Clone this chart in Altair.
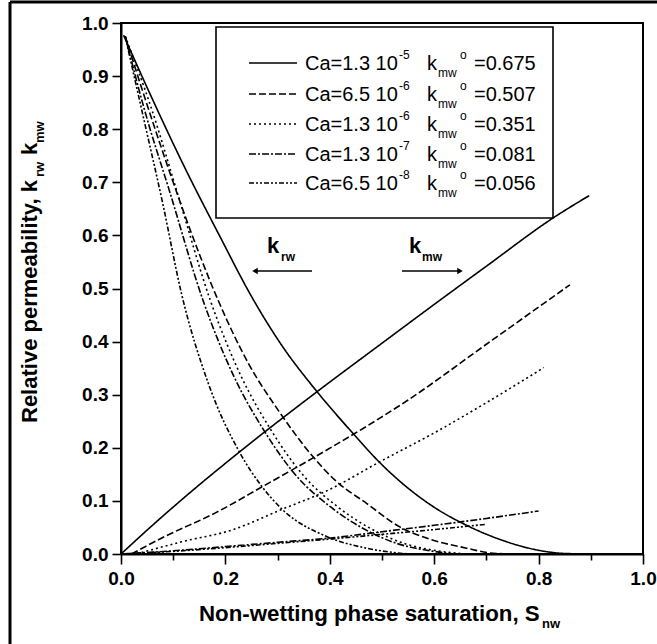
import altair as alt
import pandas as pd

# ---------------- data ----------------
series = ["1.3e-5", "6.5e-6", "1.3e-6", "1.3e-7", "6.5e-8"]
kmw0 = ["0.675", "0.507", "0.351", "0.081", "0.056"]
ca_base = ["Ca=1.3 10", "Ca=6.5 10", "Ca=1.3 10", "Ca=1.3 10", "Ca=6.5 10"]
ca_exp = ["-5", "-6", "-6", "-7", "-8"]

# k_rw curves (decreasing)
krw_x = {
    "1.3e-5": [0.005, 0.06, 0.12, 0.19, 0.25, 0.31, 0.372, 0.44, 0.5, 0.6, 0.66, 0.73, 0.79, 0.85, 0.9],
    "6.5e-6": [0.008, 0.05, 0.1, 0.15, 0.186, 0.244, 0.301, 0.368, 0.41, 0.471, 0.534, 0.598, 0.662, 0.707, 0.75],
    "1.3e-6": [0.008, 0.058, 0.108, 0.171, 0.23, 0.287, 0.351, 0.415, 0.478, 0.542, 0.606, 0.66],
    "1.3e-7": [0.008, 0.044, 0.094, 0.157, 0.216, 0.273, 0.337, 0.401, 0.464, 0.528, 0.592, 0.64],
    "6.5e-8": [0.008, 0.04, 0.08, 0.116, 0.167, 0.228, 0.27, 0.31, 0.394, 0.47, 0.55],
}
krw_y = {
    "1.3e-5": [0.977, 0.857, 0.732, 0.597, 0.485, 0.39, 0.31, 0.232, 0.168, 0.088, 0.055, 0.026, 0.009, 0.001, 0.0],
    "6.5e-6": [0.975, 0.846, 0.70, 0.565, 0.478, 0.359, 0.271, 0.183, 0.139, 0.095, 0.051, 0.026, 0.011, 0.002, 0.0],
    "1.3e-6": [0.975, 0.84, 0.68, 0.478, 0.335, 0.234, 0.146, 0.089, 0.048, 0.02, 0.006, 0.0],
    "1.3e-7": [0.975, 0.84, 0.68, 0.478, 0.335, 0.234, 0.146, 0.089, 0.048, 0.02, 0.006, 0.0],
    "6.5e-8": [0.975, 0.835, 0.66, 0.49, 0.322, 0.19, 0.127, 0.083, 0.033, 0.011, 0.0],
}
# k_mw curves (increasing)
kmw_x = {
    "1.3e-5": [0.0, 0.01, 0.05, 0.116, 0.228, 0.372, 0.5, 0.6, 0.7, 0.828, 0.897],
    "6.5e-6": [0.02, 0.084, 0.18, 0.273, 0.368, 0.41, 0.55, 0.7, 0.86],
    "1.3e-6": [0.03, 0.116, 0.212, 0.308, 0.39, 0.502, 0.6, 0.7, 0.81],
    "1.3e-7": [0.0, 0.1, 0.2, 0.3, 0.41, 0.5, 0.6, 0.7, 0.8],
    "6.5e-8": [0.0, 0.1, 0.2, 0.3, 0.41, 0.5, 0.6, 0.7],
}
kmw_y = {
    "1.3e-5": [0.0, 0.009, 0.045, 0.102, 0.193, 0.303, 0.397, 0.47, 0.542, 0.633, 0.675],
    "6.5e-6": [0.0, 0.033, 0.077, 0.128, 0.181, 0.205, 0.29, 0.395, 0.507],
    "1.3e-6": [0.0, 0.023, 0.045, 0.084, 0.117, 0.177, 0.228, 0.285, 0.351],
    "1.3e-7": [0.0, 0.006, 0.014, 0.022, 0.031, 0.042, 0.054, 0.067, 0.081],
    "6.5e-8": [0.0, 0.005, 0.012, 0.02, 0.029, 0.037, 0.046, 0.056],
}

y_ticks = [0.0, 0.1, 0.2, 0.3, 0.4, 0.5, 0.6, 0.7, 0.8, 0.9, 1.0]
x_ticks = [0.0, 0.1, 0.2, 0.3, 0.4, 0.5, 0.6, 0.7, 0.8, 0.9, 1.0]

dashes = [[1, 0], [7, 3], [2, 3], [7, 2, 2, 2], [5, 2, 2, 2, 2, 2]]

rows = []
for s in series:
    for i, (x, y) in enumerate(zip(krw_x[s], krw_y[s])):
        rows.append({"series": s, "curve": s + "_krw", "i": i, "x": x, "y": y})
    for i, (x, y) in enumerate(zip(kmw_x[s], kmw_y[s])):
        rows.append({"series": s, "curve": s + "_kmw", "i": i, "x": x, "y": y})
df = pd.DataFrame(rows)

W, H = 522, 531
FONT = "Liberation Sans"
one = pd.DataFrame({"a": [0]})

dash_scale = alt.Scale(domain=series, range=dashes)

lines = alt.Chart(df).mark_line(color="black", strokeWidth=1.6, interpolate="monotone", clip=True).encode(
    x=alt.X("x:Q", scale=alt.Scale(domain=[0, 1], nice=False),
            axis=alt.Axis(values=x_ticks, title=None,
                          labelExpr="round(datum.value*10)%2==0 ? format(datum.value,'.1f') : ''",
                          tickSize={"condition": {"test": "round(datum.value*10)%2==0", "value": 10}, "value": 6},
                          labelFontSize=19, labelFontWeight="bold", labelFont=FONT, labelColor="black",
                          labelPadding=5, tickColor="black", tickWidth=1.6, domainColor="black",
                          domainWidth=2, grid=False, labelFlush=False)),
    y=alt.Y("y:Q", scale=alt.Scale(domain=[0, 1], nice=False),
            axis=alt.Axis(values=y_ticks, format=".1f", title=None,
                          labelFontSize=19, labelFontWeight="bold", labelFont=FONT, labelColor="black",
                          labelPadding=4, tickSize=9, tickColor="black", tickWidth=1.6,
                          domainColor="black", domainWidth=2, grid=False)),
    strokeDash=alt.StrokeDash("series:N", scale=dash_scale, legend=None),
    detail="curve:N",
    order="i:Q",
)


def txt(x, y, s, size=18, weight="normal", angle=0, align="left", baseline="alphabetic"):
    return alt.Chart(one).mark_text(
        font=FONT, fontSize=size, fontWeight=weight, angle=angle, align=align,
        baseline=baseline, color="black"
    ).encode(x=alt.value(x), y=alt.value(y), text=alt.value(s))


layers = [lines]

# legend box
layers.append(alt.Chart(one).mark_rect(fill="white", stroke="black", strokeWidth=1.6).encode(
    x=alt.value(95), x2=alt.value(432), y=alt.value(4), y2=alt.value(195)))
row_y = [40, 71, 101, 131, 160]
for k, s in enumerate(series):
    ry = row_y[k]
    layers.append(alt.Chart(one).mark_rule(color="black", strokeWidth=1.6, strokeDash=dashes[k]).encode(
        x=alt.value(128), x2=alt.value(176), y=alt.value(ry)))
    layers.append(txt(184, ry + 7, ca_base[k], size=20))
    layers.append(txt(278, ry - 4, ca_exp[k], size=12))
    layers.append(txt(306, ry + 7, "k", size=20))
    layers.append(txt(317, ry + 14, "mw", size=12))
    layers.append(txt(339, ry - 4, "o", size=12))
    layers.append(txt(353, ry + 7, "=" + kmw0[k], size=20))

# arrow annotations
layers.append(txt(146, 230, "k", size=22, weight="bold"))
layers.append(txt(160, 238, "rw", size=12, weight="bold"))
layers.append(alt.Chart(one).mark_rule(color="black", strokeWidth=1.6).encode(
    x=alt.value(134), x2=alt.value(191), y=alt.value(248)))
layers.append(alt.Chart(one).mark_point(shape="triangle-left", filled=True, color="black", size=40, opacity=1).encode(
    x=alt.value(134), y=alt.value(248)))
layers.append(txt(288, 230, "k", size=22, weight="bold"))
layers.append(txt(301, 238, "mw", size=12, weight="bold"))
layers.append(alt.Chart(one).mark_rule(color="black", strokeWidth=1.6).encode(
    x=alt.value(281), x2=alt.value(339), y=alt.value(248)))
layers.append(alt.Chart(one).mark_point(shape="triangle-right", filled=True, color="black", size=40, opacity=1).encode(
    x=alt.value(339), y=alt.value(248)))

# axis titles
layers.append(txt(78, 598, "Non-wetting phase saturation, S", size=22.3, weight="bold"))
layers.append(txt(421, 605, "nw", size=13, weight="bold"))
layers.append(txt(-84, 400, "Relative permeability, k", size=22, weight="bold", angle=270))
layers.append(txt(-77, 154, "rw", size=13, weight="bold", angle=270))
layers.append(txt(-84, 132, "k", size=22, weight="bold", angle=270))
layers.append(txt(-77, 120, "mw", size=13, weight="bold", angle=270))

# outer frame (left and top)
layers.append(alt.Chart(one).mark_rule(color="black", strokeWidth=3).encode(
    x=alt.value(-111), y=alt.value(-21), y2=alt.value(H + 95)))
layers.append(alt.Chart(one).mark_rule(color="black", strokeWidth=3).encode(
    x=alt.value(-111), x2=alt.value(W + 20), y=alt.value(-21)))

chart = alt.layer(*layers).properties(
    width=W, height=H,
    autosize=alt.AutoSizeParams(type="none"),
    padding={"left": 121, "top": 23, "right": 14, "bottom": 90},
    background="white",
).configure_view(stroke="black", strokeWidth=2)

chart.save("out.html", embed_options={"renderer": "svg", "actions": False})
